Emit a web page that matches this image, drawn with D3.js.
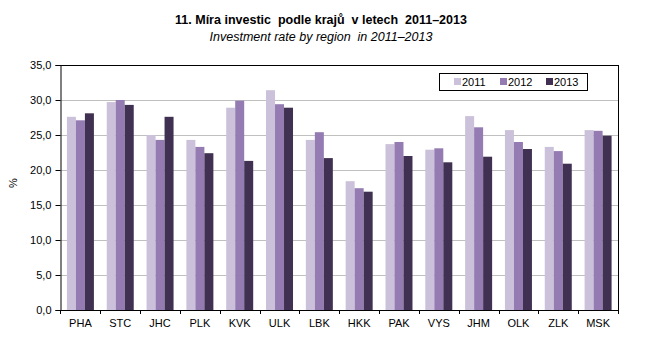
<!DOCTYPE html>
<html><head><meta charset="utf-8">
<script src="https://cdn.jsdelivr.net/npm/d3@7"></script>
<style>body{margin:0;background:#fff}svg{display:block;font-family:"Liberation Sans",Arial,sans-serif}text{white-space:pre}</style>
</head><body><svg id="c" width="647" height="350"></svg>
<script>
const categories = ["PHA","STC","JHC","PLK","KVK","ULK","LBK","HKK","PAK","VYS","JHM","OLK","ZLK","MSK"];
const years = ["2011","2012","2013"];
const v2011 = [27.6,29.7,25.0,24.3,28.9,31.4,24.3,18.4,23.7,22.9,27.7,25.7,23.3,25.7];
const v2012 = [27.1,30.0,24.3,23.3,29.9,29.4,25.4,17.4,24.0,23.1,26.1,24.0,22.7,25.6];
const v2013 = [28.1,29.3,27.6,22.4,21.3,28.9,21.7,16.9,22.0,21.1,21.9,23.0,20.9,24.9];
const yTicks = [0,5,10,15,20,25,30,35];
const colors = ["#CCC1DA","#947CB3","#403152"];
const series = [v2011, v2012, v2013];

const svg = d3.select("#c");
const L = 60.5, R = 618, T = 65, B = 310;
const x = d3.scaleBand().domain(categories).range([L, R]).paddingInner(0).paddingOuter(0);
const y = d3.scaleLinear().domain([0,35]).range([B, T]);
const bw = 9;
const inner = d3.scaleBand().domain(years).range([0, bw*3]);

// title
svg.append("text").attr("x",321).attr("y",24).attr("text-anchor","middle")
  .attr("font-size",12.5).attr("font-weight","bold").text("11. Míra investic  podle krajů  v letech  2011–2013");
svg.append("text").attr("x",321).attr("y",41).attr("text-anchor","middle")
  .attr("font-size",12.5).attr("font-style","italic").text("Investment rate by region  in 2011–2013");

// grid
svg.append("g").selectAll("line").data(yTicks.filter(d=>d>0 && d<35)).join("line")
  .attr("x1",L).attr("x2",R).attr("y1",d=>Math.round(y(d))+0.5).attr("y2",d=>Math.round(y(d))+0.5)
  .attr("stroke","#808080").attr("stroke-width",1).attr("stroke-dasharray","1,1");

// bars
const g = svg.append("g");
categories.forEach((c,i)=>{
  series.forEach((s,k)=>{
    const x0 = x(c) + (x.bandwidth() - bw*3)/2 + inner(years[k]);
    g.append("rect").attr("x",x0).attr("width",bw)
      .attr("y",y(s[i])).attr("height",B - y(s[i])).attr("fill",colors[k]);
  });
});

// frame top/right
svg.append("line").attr("x1",L).attr("x2",R).attr("y1",T+0.5).attr("y2",T+0.5).attr("stroke","#000");
svg.append("line").attr("x1",R+0.5).attr("x2",R+0.5).attr("y1",T).attr("y2",B).attr("stroke","#000");

// y axis
const ya = svg.append("g").attr("transform",`translate(${L},0)`)
  .call(d3.axisLeft(y).tickValues(yTicks).tickSize(5).tickPadding(4).tickFormat(d=>d3.format(".1f")(d).replace(".",",")));
ya.select(".domain").attr("stroke","#000");
ya.selectAll("text").attr("font-size",11).attr("fill","#000").style("font-family","Liberation Sans, Arial, sans-serif");

// x axis
const xa = svg.append("g").attr("transform",`translate(0,${B})`)
  .call(d3.axisBottom(x).tickSize(0).tickPadding(9));
xa.select(".domain").attr("stroke","#000");
xa.selectAll("text").attr("font-size",11).attr("fill","#000").style("font-family","Liberation Sans, Arial, sans-serif");
xa.selectAll(".tick line").remove();
svg.append("g").selectAll("line").data(categories.slice(1).concat(["_end"])).join("line")
  .attr("x1",(d,i)=>Math.round(L + x.bandwidth()*(i+1))+0.5).attr("x2",(d,i)=>Math.round(L + x.bandwidth()*(i+1))+0.5)
  .attr("y1",B).attr("y2",B+4).attr("stroke","#000");
svg.append("line").attr("x1",L).attr("x2",L).attr("y1",B).attr("y2",B+4).attr("stroke","#000");

// y label
svg.append("text").attr("transform","translate(17,183) rotate(-90)").attr("text-anchor","middle")
  .attr("font-size",11).text("%");

// legend
const lg = svg.append("g");
lg.append("rect").attr("x",439.5).attr("y",73.5).attr("width",148).attr("height",17)
  .attr("fill","#fff").attr("stroke","#000");
years.forEach((yr,k)=>{
  const lx = 454 + k*46;
  lg.append("rect").attr("x",lx).attr("y",78).attr("width",7).attr("height",7).attr("fill",colors[k]);
  lg.append("text").attr("x",lx+8).attr("y",86).attr("font-size",11).text(yr);
});
</script></body></html>
